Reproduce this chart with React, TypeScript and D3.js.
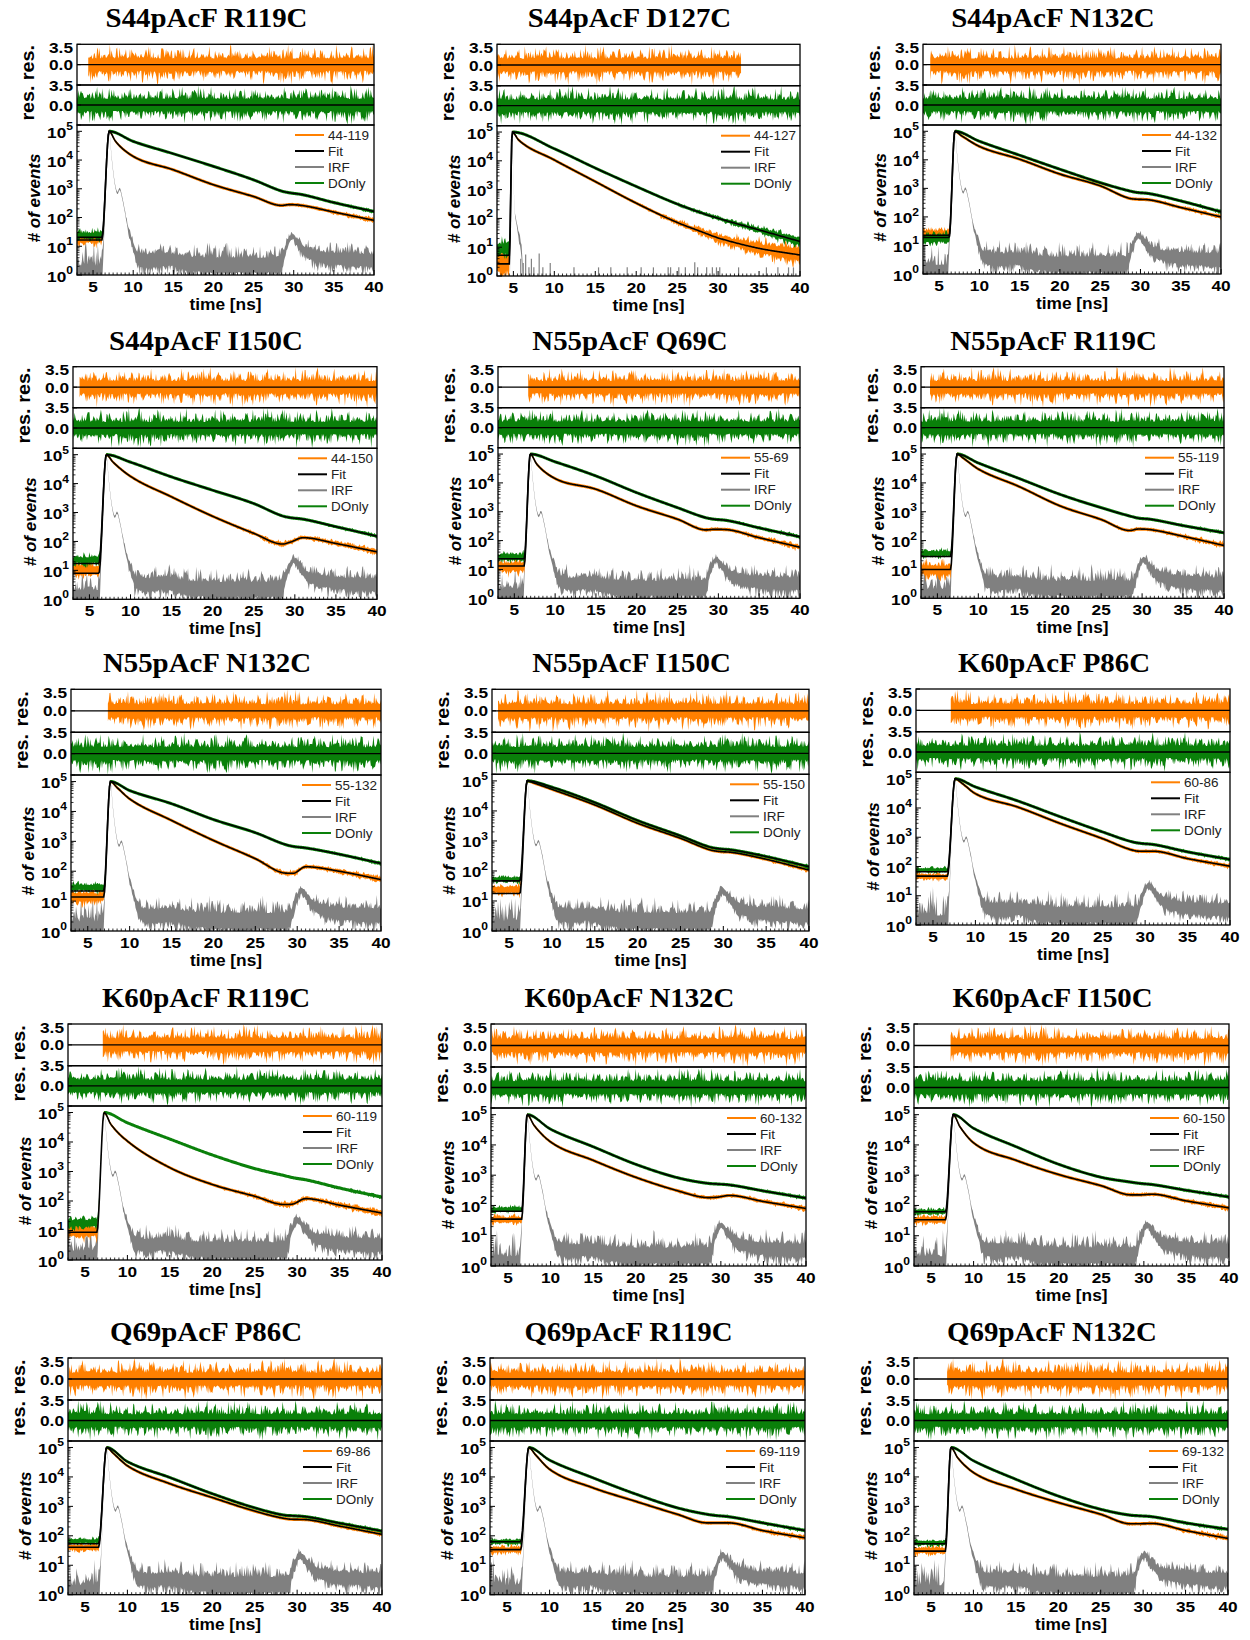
import React from 'react';
import * as d3 from 'd3';

// ---------- data ----------
const TITLES = [
  'S44pAcF R119C', 'S44pAcF D127C', 'S44pAcF N132C',
  'S44pAcF I150C', 'N55pAcF Q69C', 'N55pAcF R119C',
  'N55pAcF N132C', 'N55pAcF I150C', 'K60pAcF P86C',
  'K60pAcF R119C', 'K60pAcF N132C', 'K60pAcF I150C',
  'Q69pAcF P86C', 'Q69pAcF R119C', 'Q69pAcF N132C',
];
const LEGEND_LABELS = [
  '44-119', '44-127', '44-132', '44-150', '55-69', '55-119', '55-132', '55-150',
  '60-86', '60-119', '60-132', '60-150', '69-86', '69-119', '69-132',
];
const LEGEND_NAMES = ['Fit', 'IRF', 'DOnly'];
const X_TICKS = [5, 10, 15, 20, 25, 30, 35, 40];
const DECADES = [0, 1, 2, 3, 4, 5];
const RES_TICK_LABELS = ['3.5', '0.0'];

// decay knots (ns) and log10(# of events) at those times
const DECAY_TIMES = [10, 15, 20, 25, 28.5, 29.5, 31, 35, 40];
const RISE_START = [6.1, 4.5, 6.25, 6.15, 6.2, 6.6, 6.9, 6.25, 6.7, 6.4, 6.6, 6.7, 6.6, 6.6, 6.7];
const PEAK_TIME = [7.0, 4.85, 6.95, 7.05, 6.95, 7.4, 7.7, 7.1, 7.6, 7.25, 7.25, 7.6, 7.55, 7.55, 7.35];
const FRET_EARLY_LOG10 = [4.65, 4.72, 4.85, 4.75, 4.65, 4.85, 4.8, 4.93, 4.85, 4.6, 4.65, 4.6, 4.8, 4.75, 4.65];
const FRET_LOG10 = [
  [4.13, 3.66, 3.14, 2.73, 2.42, 2.45, 2.42, 2.19, 1.9],
  [4.03, 3.28, 2.53, 1.86, 1.48, 1.37, 1.24, 0.96, 0.73],
  [4.47, 4.02, 3.5, 3.09, 2.66, 2.62, 2.6, 2.33, 2.0],
  [4.25, 3.54, 2.87, 2.28, 1.91, 1.98, 2.13, 1.93, 1.64],
  [4.15, 3.78, 3.2, 2.74, 2.37, 2.39, 2.38, 2.1, 1.77],
  [4.48, 3.87, 3.2, 2.73, 2.35, 2.4, 2.38, 2.15, 1.83],
  [4.42, 3.7, 3.03, 2.42, 1.94, 1.93, 2.15, 2.0, 1.72],
  [4.72, 4.2, 3.59, 3.09, 2.7, 2.65, 2.62, 2.39, 2.03],
  [4.49, 4.03, 3.47, 2.95, 2.56, 2.52, 2.52, 2.27, 2.01],
  [4.03, 3.13, 2.56, 2.16, 1.88, 1.9, 2.08, 1.86, 1.59],
  [4.1, 3.49, 2.93, 2.48, 2.26, 2.27, 2.33, 2.13, 1.9],
  [4.07, 3.49, 3.02, 2.65, 2.35, 2.35, 2.37, 2.15, 1.92],
  [4.38, 3.77, 3.3, 2.84, 2.59, 2.56, 2.55, 2.33, 2.05],
  [4.26, 3.64, 3.18, 2.73, 2.44, 2.44, 2.44, 2.18, 1.93],
  [4.15, 3.58, 3.13, 2.73, 2.41, 2.41, 2.42, 2.18, 1.91],
];
const DONOR_LOG10 = [
  [4.65, 4.22, 3.78, 3.31, 2.92, 2.86, 2.8, 2.52, 2.21],
  [4.42, 3.75, 3.11, 2.5, 2.14, 2.05, 1.92, 1.6, 1.2],
  [4.65, 4.16, 3.67, 3.2, 2.92, 2.86, 2.82, 2.56, 2.18],
  [4.74, 4.23, 3.77, 3.31, 2.88, 2.82, 2.77, 2.51, 2.18],
  [4.73, 4.24, 3.66, 3.14, 2.79, 2.74, 2.7, 2.44, 2.13],
  [4.69, 4.15, 3.6, 3.14, 2.85, 2.78, 2.74, 2.52, 2.27],
  [4.7, 4.26, 3.73, 3.29, 2.9, 2.83, 2.78, 2.57, 2.26],
  [4.79, 4.28, 3.68, 3.17, 2.79, 2.74, 2.7, 2.48, 2.14],
  [4.72, 4.24, 3.7, 3.18, 2.84, 2.79, 2.75, 2.5, 2.24],
  [4.65, 4.1, 3.56, 3.1, 2.86, 2.79, 2.72, 2.44, 2.13],
  [4.52, 3.94, 3.36, 2.91, 2.73, 2.71, 2.68, 2.48, 2.24],
  [4.55, 3.94, 3.36, 2.93, 2.77, 2.73, 2.69, 2.5, 2.28],
  [4.52, 3.98, 3.43, 2.95, 2.7, 2.68, 2.65, 2.43, 2.16],
  [4.57, 3.98, 3.43, 2.95, 2.73, 2.69, 2.65, 2.44, 2.18],
  [4.55, 3.92, 3.35, 2.9, 2.7, 2.68, 2.65, 2.44, 2.22],
];
const FRET_BASE_LOG10 = [1.25, 0.45, 1.42, 1.01, 1.1, 0.99, 1.14, 1.37, 1.65, 0.97, 1.53, 1.53, 1.61, 1.53, 1.5];
const FRET_FIT_BASE_LOG10 = [1.22, 0.42, 1.36, 0.9, 1.12, 1.0, 1.14, 1.25, 1.67, 0.94, 1.55, 1.53, 1.61, 1.53, 1.48];
const DONOR_BASE_LOG10 = [1.38, 0.95, 1.25, 1.36, 1.43, 1.55, 1.46, 1.72, 1.88, 1.25, 1.87, 1.79, 1.82, 1.8, 1.76];
const DONOR_FIT_BASE_LOG10 = [1.31, 0.72, 1.28, 1.24, 1.37, 1.45, 1.34, 1.67, 1.82, 1.2, 1.81, 1.79, 1.73, 1.8, 1.73];
const DONOR_FIT_SHOWN = [true, true, true, true, true, true, true, true, true, false, true, true, true, true, true];
const FRET_RES_RANGE = [
  [4.4, 40], [3, 32.8], [3.9, 40], [3.8, 40], [6.7, 40], [4.05, 40], [7.4, 40], [3.7, 40],
  [7.1, 40], [7.05, 40], [3.1, 40], [7.3, 40], [3.1, 40], [3.0, 40], [6.9, 40],
];
// IRF shape relative to the peak time
const IRF_REL_T = [-4.5, -0.95, -0.7, -0.45, -0.2, 0, 0.3, 0.7, 1.05, 1.3, 1.7, 2.3, 3.0, 3.6, 5.5, 7, 10, 14, 20, 21.4, 22.1, 22.8, 23.5, 24.5, 26, 29, 33];
const IRF_LOG10 = [-0.1, -0.1, 1.0, 2.6, 4.6, 5.0, 4.13, 3.2, 2.85, 3.0, 2.6, 1.7, 1.0, 0.6, 0.5, 0.55, 0.4, 0.35, 0.35, 0.4, 1.0, 1.35, 1.1, 0.8, 0.65, 0.55, 0.5];
const IRF_NARROW_REL_T = [-0.35, -0.2, -0.1, 0, 0.15, 0.3, 0.5, 0.8, 1.2, 1.6];
const IRF_NARROW_LOG10 = [-1.5, 1.5, 4.0, 5.0, 3.5, 2.3, 1.9, 1.4, 0.6, -1.5];
const IRF_SPIKE_T = [5.9, 6.2, 6.5, 6.9, 7.2, 7.5, 8.15, 8.6, 9.5, 12.4, 15.4, 16.9, 18.9, 20.6, 22.1, 23.9, 24.2, 25.2, 26.0, 27.15, 27.5, 28.6, 29.3, 29.8, 30.2, 32.5, 35.9, 37.3, 38.6, 39.2];
const IRF_SPIKE_LOG10 = [0.6, 0.45, 0.75, 0.3, 0.6, 0.3, 0.78, 0.3, 0.45, 0.3, 0.3, 0.3, 0.3, 0.3, 0.3, 0.3, 0.3, 0.3, 0.3, 0.48, 0.3, 0.3, 0.3, 0.3, 0.3, 0.3, 0.3, 0.3, 0.3, 0.3];
// hand-typed texture used for the counting noise / residual scatter
const NOISE = [
  3, 7, 1, 8, 4, 6, 2, 9, 5, 0, 7, 3, 6, 1, 8, 4, 2, 7, 5, 9, 1, 6, 3, 8, 0, 5, 7, 2, 4, 9,
  6, 1, 3, 8, 5, 2, 7, 0, 4, 6, 9, 3, 1, 5, 8, 2, 6, 4, 7, 0, 9, 3, 5, 1, 8, 6, 2, 4, 7, 3,
  9, 0, 5, 8, 1, 6, 4, 2, 7, 3, 8, 5, 9, 1, 6, 0, 4, 2, 7, 5, 3, 8, 6, 1, 9, 4, 2, 5, 7, 0,
  3, 8, 1, 6, 4, 9, 2, 7, 5, 3, 6,
];

// ---------- layout (pixel boxes: left, right, resTop, res1/res2, res2/main, bottom) ----------
const BOX = [
  [77, 374, 44.3, 85, 125, 275],
  [497, 800, 44.3, 85.7, 125.7, 276],
  [923, 1221, 44.3, 85, 125, 274],
  [73, 377, 366.7, 407.7, 448.3, 599.3],
  [498, 800, 366.7, 407.7, 447.7, 598.3],
  [921, 1224, 366.7, 407.7, 447.7, 598.3],
  [71, 381, 689.3, 732.3, 775, 931],
  [492, 809, 689.3, 732.3, 774.3, 931],
  [916, 1230, 689, 731.7, 772.3, 925],
  [68, 382, 1024, 1065.7, 1106, 1260],
  [491, 806, 1024, 1067, 1108, 1266],
  [914, 1229, 1024, 1067, 1108, 1266],
  [68, 382, 1358, 1400, 1441, 1594.7],
  [490, 805, 1358, 1400, 1441, 1594.7],
  [914, 1228, 1358, 1400, 1441, 1594.7],
];

const ORANGE = '#ff8000';
const GREEN = '#0a800a';
const GRAY = '#808080';
const SANS = "'Liberation Sans', Arial, sans-serif";
const SERIF = "'Liberation Serif', 'Times New Roman', serif";

const SAMPLES = d3.range(0, 371).map((i) => 3 + i * 0.1);

function nz(i: number, s: number) {
  const L = NOISE.length;
  const a = NOISE[(i * 7 + Math.floor(i / L) * 37 + s) % L];
  const b = NOISE[(i * 13 + Math.floor(i / 53) * 19 + s * 3 + 11) % L];
  return (a * b) / 81;
}

function mono(xs: number[], ys: number[]) {
  const n = xs.length;
  const d: number[] = [];
  const m: number[] = [];
  for (let i = 0; i < n - 1; i++) d[i] = (ys[i + 1] - ys[i]) / (xs[i + 1] - xs[i]);
  m[0] = d[0];
  m[n - 1] = d[n - 2];
  for (let i = 1; i < n - 1; i++) m[i] = d[i - 1] * d[i] <= 0 ? 0 : (d[i - 1] + d[i]) / 2;
  for (let i = 0; i < n - 1; i++) {
    if (d[i] === 0) { m[i] = 0; m[i + 1] = 0; continue; }
    const a = m[i] / d[i], b = m[i + 1] / d[i], s = a * a + b * b;
    if (s > 9) { const t = 3 / Math.sqrt(s); m[i] = t * a * d[i]; m[i + 1] = t * b * d[i]; }
  }
  return (x: number) => {
    if (x <= xs[0]) return ys[0];
    if (x >= xs[n - 1]) return ys[n - 1];
    let k = 0;
    while (x > xs[k + 1]) k++;
    const h = xs[k + 1] - xs[k], t = (x - xs[k]) / h, t2 = t * t, t3 = t2 * t;
    return (2 * t3 - 3 * t2 + 1) * ys[k] + (t3 - 2 * t2 + t) * h * m[k] + (-2 * t3 + 3 * t2) * ys[k + 1] + (t3 - t2) * h * m[k + 1];
  };
}

type Pt = { t: number; y0: number; y1: number };

function Txt(props: any) {
  const { x, y, sx = 1.15, anchor = 'middle', size = 15, weight = 'bold', family = SANS, style, rotate, children, fill = '#000' } = props;
  const tr = rotate ? `translate(${x},${y}) rotate(${rotate}) scale(${sx},1)` : `translate(${x},${y}) scale(${sx},1)`;
  return (
    <text transform={tr} textAnchor={anchor} fontSize={size} fontWeight={weight} fontFamily={family} fontStyle={style} fill={fill}>
      {children}
    </text>
  );
}

function Panel({ p }: { p: number }) {
  const [L, R, T, B1, B2, Bot] = BOX[p];
  const x = d3.scaleLinear().domain([3, 40]).range([L, R]);
  const yR1 = d3.scaleLinear().domain([-3.5, 3.5]).range([B1, T]);
  const yR2 = d3.scaleLinear().domain([-3.5, 3.5]).range([B2, B1]);
  const y = d3.scaleLog().domain([1, Math.pow(10, 5.22)]).range([Bot, B2]);

  const t0 = RISE_START[p], tp = PEAK_TIME[p];
  const fKnots = [3, t0, tp, tp + 0.8, ...DECAY_TIMES];
  const dKnots = [3, t0, tp, ...DECAY_TIMES];
  const fretData = mono(fKnots, [FRET_BASE_LOG10[p], FRET_BASE_LOG10[p], 5, FRET_EARLY_LOG10[p], ...FRET_LOG10[p]]);
  const fretFit = mono(fKnots, [FRET_FIT_BASE_LOG10[p], FRET_FIT_BASE_LOG10[p], 5, FRET_EARLY_LOG10[p], ...FRET_LOG10[p]]);
  const donorData = mono(dKnots, [DONOR_BASE_LOG10[p], DONOR_BASE_LOG10[p], 5, ...DONOR_LOG10[p]]);
  const donorFit = mono(dKnots, [DONOR_FIT_BASE_LOG10[p], DONOR_FIT_BASE_LOG10[p], 5, ...DONOR_LOG10[p]]);
  const narrow = p === 1;
  const irf = narrow
    ? mono(IRF_NARROW_REL_T.map((r) => tp + r), IRF_NARROW_LOG10)
    : mono(IRF_REL_T.map((r) => tp + r), IRF_LOG10);

  const band = (f: (t: number) => number, seed: number, k: number, cap: number, minPx: number): Pt[] =>
    SAMPLES.map((t, i) => {
      const c = f(t);
      const hw = Math.min(cap, k / Math.sqrt(Math.pow(10, c)));
      const up = c + hw * (0.3 + 0.7 * nz(i, seed));
      const lo = c - hw * (0.3 + 0.7 * nz(i, seed + 5));
      const yc = y(Math.pow(10, c));
      return { t, y1: Math.min(y(Math.pow(10, up)), yc - minPx), y0: Math.max(y(Math.pow(10, lo)), yc + minPx) };
    });

  const area = d3.area<Pt>().x((d) => x(d.t)).y0((d) => d.y0).y1((d) => d.y1);
  const fitLine = (f: (t: number) => number) =>
    d3.line<number>().x((t) => x(t)).y((t) => y(Math.pow(10, f(t))))(SAMPLES) || '';

  const resBand = (range: number[], seed: number, ys: d3.ScaleLinear<number, number>): Pt[] =>
    SAMPLES.map((t, i) => ({ t, i }))
      .filter((d) => d.t >= range[0] - 1e-9 && d.t <= range[1] + 1e-9)
      .map(({ t, i }) => ({ t, y1: ys(1.05 + 2.4 * nz(i, seed)), y0: ys(-(1.05 + 2.4 * nz(i, seed + 3))) }));

  const s = p * 11;
  const irfBand = band(irf, s + 115, 1.25, narrow ? 0.35 : Infinity, 1.1);
  const fretBand = band(fretData, s + 69, 1.4, Infinity, 1.6);
  const donorBand = band(donorData, s + 92, 1.4, Infinity, 1.6);
  const fretRes = resBand(FRET_RES_RANGE[p], s + 23, yR1);
  const donorRes = resBand([3, 40], s + 46, yR2);

  const cid = `c${p}`;
  const minorX = d3.range(3, 40.01, 0.5).filter((v) => v % 5 !== 0);
  const minorY: number[] = [];
  for (let e = 0; e < 5; e++) for (let m = 2; m <= 9; m++) minorY.push(m * Math.pow(10, e));

  const cx = (L + R) / 2;
  const legendRows = [LEGEND_LABELS[p], ...LEGEND_NAMES];
  const legendColors = [ORANGE, '#000', GRAY, GREEN];

  return (
    <g>
      <defs>
        <clipPath id={`${cid}m`}><rect x={L} y={B2} width={R - L} height={Bot - B2} /></clipPath>
        <clipPath id={`${cid}a`}><rect x={L} y={T} width={R - L} height={B1 - T} /></clipPath>
        <clipPath id={`${cid}b`}><rect x={L} y={B1} width={R - L} height={B2 - B1} /></clipPath>
      </defs>
      {/* title */}
      <Txt x={cx - 19} y={T - 17} size={27.5} family={SERIF} sx={1.05}>{TITLES[p]}</Txt>

      {/* residuals */}
      <g clipPath={`url(#${cid}a)`}>
        <path d={area(fretRes) || ''} fill={ORANGE} />
        <line x1={L} x2={R} y1={yR1(0)} y2={yR1(0)} stroke="#000" strokeWidth={1.3} />
      </g>
      <g clipPath={`url(#${cid}b)`}>
        <path d={area(donorRes) || ''} fill={GREEN} />
        <line x1={L} x2={R} y1={yR2(0)} y2={yR2(0)} stroke="#000" strokeWidth={1.3} />
      </g>

      {/* decays */}
      <g clipPath={`url(#${cid}m)`}>
        <path d={area(irfBand) || ''} fill={GRAY} />
        {narrow && IRF_SPIKE_T.map((t, i) => (
          <line key={i} x1={x(t)} x2={x(t)} y1={y(1)} y2={y(Math.pow(10, IRF_SPIKE_LOG10[i]))} stroke={GRAY} strokeWidth={1.2} />
        ))}
        <path d={area(fretBand) || ''} fill={ORANGE} />
        <path d={area(donorBand) || ''} fill={GREEN} />
        <path d={fitLine(fretFit)} fill="none" stroke="#000" strokeWidth={1.6} />
        {DONOR_FIT_SHOWN[p] && <path d={fitLine(donorFit)} fill="none" stroke="#000" strokeWidth={1.6} />}
      </g>

      {/* legend */}
      {legendRows.map((lab, i) => {
        const ly = B2 + 10 + i * 16;
        return (
          <g key={i}>
            <line x1={R - 79} x2={R - 50} y1={ly} y2={ly} stroke={legendColors[i]} strokeWidth={2} />
            <Txt x={R - 46} y={ly + 4.5} anchor="start" size={12.5} weight="normal" sx={1.08} fill="#222">{lab}</Txt>
          </g>
        );
      })}

      {/* ticks */}
      {X_TICKS.map((v) => (
        <line key={`xt${v}`} x1={x(v)} x2={x(v)} y1={Bot} y2={Bot - 5} stroke="#000" strokeWidth={1} />
      ))}
      {minorX.map((v) => (
        <line key={`xm${v}`} x1={x(v)} x2={x(v)} y1={Bot} y2={Bot - 2.5} stroke="#000" strokeWidth={0.8} />
      ))}
      {DECADES.map((e) => (
        <line key={`yt${e}`} x1={L} x2={L + 5} y1={y(Math.pow(10, e))} y2={y(Math.pow(10, e))} stroke="#000" strokeWidth={1} />
      ))}
      {minorY.map((v) => (
        <line key={`ym${v}`} x1={L} x2={L + 2.5} y1={y(v)} y2={y(v)} stroke="#000" strokeWidth={0.8} />
      ))}
      {[yR1, yR2].map((ys, k) => (
        <g key={`rt${k}`}>
          {[3.5, 0, -3.5].map((v) => (
            <line key={v} x1={L} x2={L + 4} y1={ys(v)} y2={ys(v)} stroke="#000" strokeWidth={1} />
          ))}
        </g>
      ))}

      {/* frames */}
      <rect x={L} y={T} width={R - L} height={B1 - T} fill="none" stroke="#000" strokeWidth={1.3} />
      <rect x={L} y={B1} width={R - L} height={B2 - B1} fill="none" stroke="#000" strokeWidth={1.3} />
      <rect x={L} y={B2} width={R - L} height={Bot - B2} fill="none" stroke="#000" strokeWidth={1.3} />

      {/* tick labels */}
      {X_TICKS.map((v) => (
        <Txt key={`xl${v}`} x={x(v)} y={Bot + 17}>{String(v)}</Txt>
      ))}
      {DECADES.map((e) => (
        <Txt key={`yl${e}`} x={L - 4} y={y(Math.pow(10, e)) + 6.5} anchor="end">
          10<tspan fontSize={10.5} dy={-7.5}>{e}</tspan>
        </Txt>
      ))}
      <Txt x={L - 4} y={T + 8.5} anchor="end">{RES_TICK_LABELS[0]}</Txt>
      <Txt x={L - 4} y={yR1(0) + 5.5} anchor="end">{RES_TICK_LABELS[1]}</Txt>
      <Txt x={L - 4} y={B1 + 5.5} anchor="end">{RES_TICK_LABELS[0]}</Txt>
      <Txt x={L - 4} y={yR2(0) + 5.5} anchor="end">{RES_TICK_LABELS[1]}</Txt>

      {/* axis titles */}
      <Txt x={cx} y={Bot + 35} size={16.5} sx={1.05}>time [ns]</Txt>
      <Txt x={L - 43} y={(T + B1) / 2 - 2} rotate={-90} size={18} sx={1.1}>res.</Txt>
      <Txt x={L - 43} y={(B1 + B2) / 2 - 2} rotate={-90} size={18} sx={1.1}>res.</Txt>
      <Txt x={L - 37} y={(B2 + Bot) / 2 - 2} rotate={-90} size={17} sx={1.0} style="italic"># of events</Txt>
    </g>
  );
}

export default function App() {
  return (
    <svg width={1250} height={1640} style={{ position: 'absolute', left: 0, top: 0, background: '#fff' }}>
      <rect width={1250} height={1640} fill="#fff" />
      {TITLES.map((_, i) => <Panel key={i} p={i} />)}
    </svg>
  );
}
